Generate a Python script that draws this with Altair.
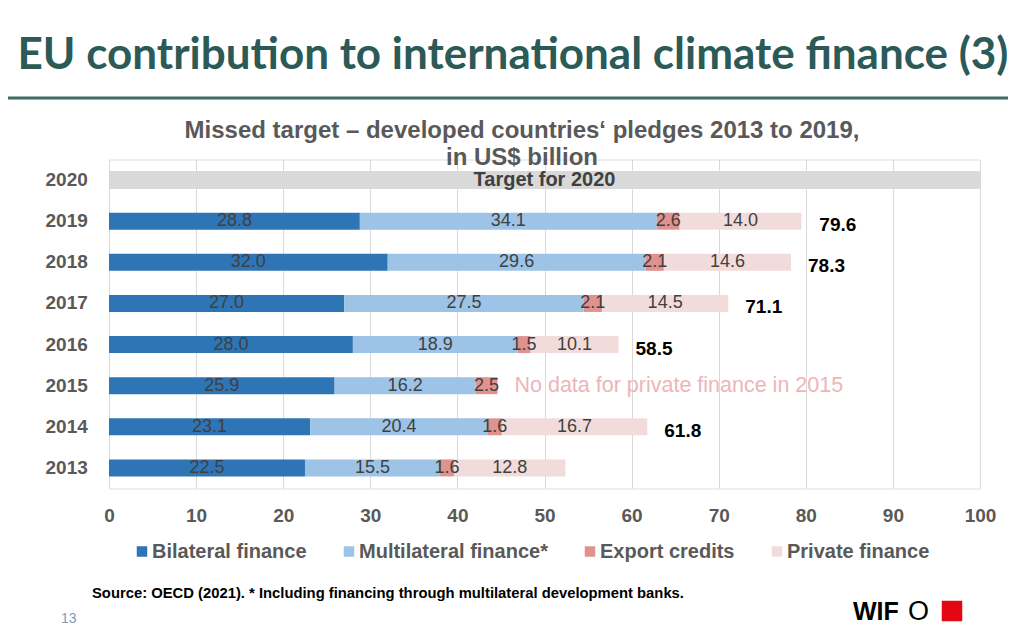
import altair as alt
import pandas as pd

# ---------------- data ----------------
years = ["2019", "2018", "2017", "2016", "2015", "2014", "2013"]
bilateral = [28.8, 32.0, 27.0, 28.0, 25.9, 23.1, 22.5]
multilateral = [34.1, 29.6, 27.5, 18.9, 16.2, 20.4, 15.5]
export_credits = [2.6, 2.1, 2.1, 1.5, 2.5, 1.6, 1.6]
private_finance = [14.0, 14.6, 14.5, 10.1, None, 16.7, 12.8]
totals = [79.6, 78.3, 71.1, 58.5, None, 61.8, None]
series_names = ["Bilateral finance", "Multilateral finance*", "Export credits", "Private finance"]
series_colors = ["#2E75B6", "#9DC3E6", "#E0928F", "#F2DCDB"]
target_year = "2020"
target_value = 100
target_label = "Target for 2020"
note_year = "2015"
note_text = "No data for private finance in 2015"
x_ticks = [0, 10, 20, 30, 40, 50, 60, 70, 80, 90, 100]
y_order = [target_year] + years

title_text = "EU contribution to international climate finance (3)"
subtitle_1 = "Missed target \u2013 developed countries\u2018 pledges 2013 to 2019,"
subtitle_2 = "in US$ billion"
source_text = "Source: OECD (2021). * Including financing through multilateral development banks."
page_no = "13"

# ---------------- tables ----------------
rows = []
for i, y in enumerate(years):
    start = 0.0
    for name, vals in zip(series_names, [bilateral, multilateral, export_credits, private_finance]):
        v = vals[i]
        if v is None:
            continue
        rows.append({"year": y, "series": name, "start": start, "end": start + v,
                     "mid": start + v / 2, "label": f"{v:.1f}"})
        start += v
seg = pd.DataFrame(rows)

tot = pd.DataFrame({"year": years, "total": totals}).dropna()
tot["label"] = tot["total"].map(lambda v: f"{v:.1f}")

note_idx = years.index(note_year)
note_x = sum(v[note_idx] for v in [bilateral, multilateral, export_credits, private_finance] if v[note_idx] is not None)
note = pd.DataFrame({"year": [note_year], "x": [note_x], "text": [note_text]})

target = pd.DataFrame({"year": [target_year], "start": [0], "end": [target_value],
                       "mid": [target_value / 2], "text": [target_label]})

FONT = "Liberation Sans"
GREY = "#595959"
DARK = "#404040"

yscale = alt.Scale(domain=y_order, paddingInner=0, paddingOuter=0)
xscale = alt.Scale(domain=[0, 100], nice=False)

x_axis = alt.Axis(values=x_ticks, grid=True, gridColor="#D9D9D9", gridWidth=1, domain=False,
                  ticks=False, tickSize=0, labelPadding=18, labelFontSize=19, labelFontWeight="bold",
                  labelColor=GREY, labelFont=FONT, labelFlush=False, title=None)
y_axis = alt.Axis(domain=False, ticks=False, tickSize=0, labelAlign="left", labelPadding=64,
                  labelFontSize=19, labelFontWeight="bold", labelColor=GREY, labelFont=FONT,
                  title=None, grid=False)

target_bar = alt.Chart(target).mark_bar(size=18, color="#D9D9D9").encode(
    x=alt.X("start:Q", scale=xscale, axis=x_axis, title=None),
    x2="end:Q",
    y=alt.Y("year:N", scale=yscale, axis=y_axis, sort=y_order, title=None),
)

target_txt = alt.Chart(target).mark_text(font=FONT, fontSize=20, fontWeight="bold", color=DARK,
                                         baseline="middle").encode(
    x=alt.X("mid:Q", title=None), y=alt.Y("year:N", sort=y_order, title=None), text="text:N")

bars = alt.Chart(seg).mark_bar(size=17).encode(
    x=alt.X("start:Q", title=None),
    x2="end:Q",
    y=alt.Y("year:N", sort=y_order, title=None),
    color=alt.Color("series:N", scale=alt.Scale(domain=series_names, range=series_colors),
                    legend=alt.Legend(title=None, orient="none", legendX=23, legendY=382,
                                      direction="horizontal", symbolType="square", symbolSize=110,
                                      symbolStrokeWidth=0, labelFontSize=20, labelFontWeight="bold",
                                      labelColor=GREY, labelFont=FONT, columnPadding=32,
                                      labelOffset=0, labelLimit=0, padding=0)),
    order=alt.Order("start:Q"),
)

seg_txt = alt.Chart(seg).mark_text(font=FONT, fontSize=18, color=DARK, baseline="middle").encode(
    x=alt.X("mid:Q", title=None), y=alt.Y("year:N", sort=y_order, title=None), text="label:N")

tot_txt = alt.Chart(tot).mark_text(font=FONT, fontSize=19, fontWeight="bold", color="#000000",
                                   align="left", baseline="middle", dx=17, dy=4).encode(
    x=alt.X("total:Q", title=None), y=alt.Y("year:N", sort=y_order, title=None), text="label:N")

note_txt = alt.Chart(note).mark_text(font=FONT, fontSize=21.5, color="#EDB5BA", align="left",
                                     baseline="middle", dx=17).encode(
    x=alt.X("x:Q", title=None), y=alt.Y("year:N", sort=y_order, title=None), text="text:N")

one = pd.DataFrame({"k": [0]})

def label(text, x, y, size, color, weight="normal", align="center", font=FONT):
    return alt.Chart(one).mark_text(text=text, font=font, fontSize=size, fontWeight=weight,
                                    color=color, align=align, baseline="middle").encode(
        x=alt.value(x), y=alt.value(y))

title = label(title_text, 404, -104, 44, "#2B5A57", "bold", font="Lato")
rule = alt.Chart(one).mark_rule(color="#3E6B64", strokeWidth=3).encode(
    x=alt.value(-109), x2=alt.value(915), y=alt.value(-61.5))
sub1 = label(subtitle_1, 413, -29, 24, GREY, "bold")
sub2 = label(subtitle_2, 413, -2, 24, GREY, "bold")
source = label(source_text, -17, 434, 14.8, "#000000", "bold", align="left")
pnum = label(page_no, -48, 459, 14, "#7F9BB3", align="left")
logo1 = label("WIF", 744, 452, 25, "#000000", "bold", align="left")
logo2 = label("O", 799, 452, 27, "#000000", align="left")
red = alt.Chart(one).mark_point(shape="square", filled=True, color="#E30613", size=420, opacity=1).encode(
    x=alt.value(843), y=alt.value(451.5))

chart = alt.layer(
    target_bar, bars, target_txt, seg_txt, tot_txt, note_txt,
    title, rule, sub1, sub2, source, pnum, logo1, logo2, red,
).properties(
    width=871, height=329,
    padding={"left": 101, "top": 151.5, "right": 28, "bottom": 138},
    autosize=alt.AutoSizeParams(type="none"),
).configure_view(stroke=None).configure(background="#FFFFFF")

chart.save("out.html", embed_options={"renderer": "svg", "actions": False})
